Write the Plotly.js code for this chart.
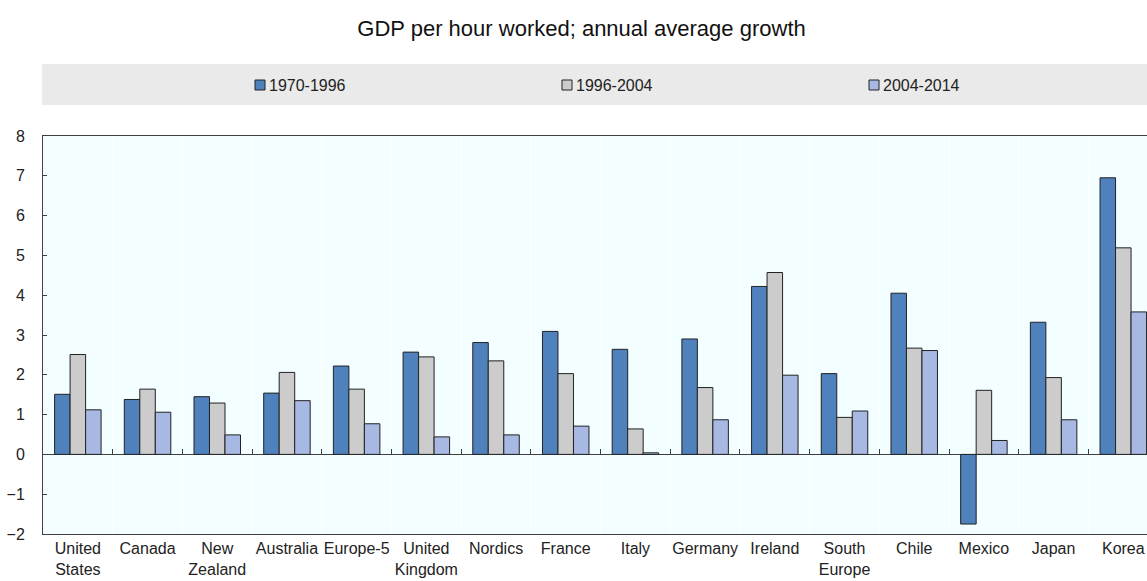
<!DOCTYPE html>
<html>
<head>
<meta charset="utf-8">
<script src="https://cdn.plot.ly/plotly-3.0.1.min.js"></script>
<style>html,body{margin:0;padding:0;background:#fff;}#chart{width:1147px;height:581px;}</style>
</head>
<body>
<div id="chart"></div>
<script>
const categories = ["United<br>States","Canada","New<br>Zealand","Australia","Europe-5","United<br>Kingdom","Nordics","France","Italy","Germany","Ireland","South<br>Europe","Chile","Mexico","Japan","Korea"];
const seriesNames = ["1970-1996","1996-2004","2004-2014"];
const s1970_1996 = [1.51,1.38,1.45,1.54,2.22,2.57,2.81,3.09,2.64,2.90,4.22,2.03,4.05,-1.75,3.32,6.95];
const s1996_2004 = [2.51,1.64,1.29,2.06,1.64,2.45,2.35,2.03,0.64,1.68,4.57,0.93,2.67,1.61,1.93,5.19];
const s2004_2014 = [1.12,1.06,0.49,1.35,0.77,0.44,0.49,0.71,0.04,0.87,1.99,1.09,2.61,0.35,0.87,3.58];
const colors = ["#4F81BD","#CCCCCC","#A7B9E3"];
const yTicks = [-2,-1,0,1,2,3,4,5,6,7,8];

const idx = categories.map((c,i)=>i);
const boundaries = categories.slice(1).map((c,i)=>i+0.5);
const values = [s1970_1996,s1996_2004,s2004_2014];

const traces = values.map((v,k)=>({
  type:'bar', name:seriesNames[k], x:idx, y:v,
  marker:{color:colors[k], line:{color:'#222', width:1}},
  showlegend:false, hoverinfo:'y'
}));

// legend drawn manually (pixel -> paper conversion)
const L=43, R=1147, T=136, B=534;
const px=(p)=>(p-L)/(R-L), py=(p)=>(B-p)/(B-T);
const legX=[255,562,869];
const shapes=[{type:'rect',xref:'paper',yref:'paper',x0:px(42),x1:px(1147),y0:py(105),y1:py(64),fillcolor:'#EAEAEA',line:{width:0},layer:'below'}];
const annotations=[];
seriesNames.forEach((n,k)=>{
  shapes.push({type:'rect',xref:'paper',yref:'paper',x0:px(legX[k]),x1:px(legX[k]+10),y0:py(90),y1:py(80),fillcolor:colors[k],line:{color:'#222',width:1}});
  annotations.push({xref:'paper',yref:'paper',x:px(legX[k]+12),y:py(85),xanchor:'left',yanchor:'middle',text:n,showarrow:false,font:{family:'Liberation Sans, Arial',size:16,color:'#222'}});
});

const layout={
  width:1147,height:581,
  margin:{l:43,r:0,t:136,b:47},
  paper_bgcolor:'#fff', plot_bgcolor:'#F2FEFF',
  font:{family:'Liberation Sans, Arial',size:16,color:'#222'},
  title:{text:'GDP per hour worked; annual average growth',x:0.507,xref:'container',y:1-28/581,yref:'container',xanchor:'center',yanchor:'middle',font:{family:'Liberation Sans, Arial',size:22,color:'#111'}},
  barmode:'group', bargap:0.333, bargroupgap:0,
  xaxis:{type:'linear',range:[-0.5,15.34],tickvals:idx,ticktext:categories,ticks:'',showgrid:false,zeroline:false,showline:true,mirror:true,linecolor:'#404040',linewidth:1,tickfont:{size:16,color:'#222'},fixedrange:true},
  xaxis2:{type:'linear',overlaying:'x',anchor:'free',position:0.2,range:[-0.5,15.34],tickvals:boundaries,showticklabels:false,ticks:'inside',ticklen:5,tickcolor:'#404040',showgrid:true,gridcolor:'#FFFFFF',gridwidth:1,zeroline:false,showline:false},
  yaxis:{range:[-2,8],tickvals:yTicks,ticks:'inside',ticklen:4,tickcolor:'#404040',showgrid:false,zeroline:true,zerolinecolor:'#404040',zerolinewidth:1,showline:true,mirror:true,linecolor:'#404040',linewidth:1,ticklabelstandoff:14,tickfont:{size:16,color:'#222'}},
  shapes:shapes, annotations:annotations
};
traces.push({type:'scatter',x:[],y:[],xaxis:'x2',yaxis:'y',showlegend:false,hoverinfo:'skip'});
Plotly.newPlot('chart',traces,layout,{displayModeBar:false,staticPlot:true});
</script>
</body>
</html>
